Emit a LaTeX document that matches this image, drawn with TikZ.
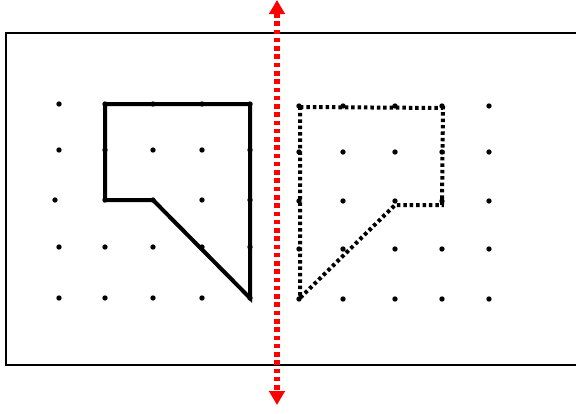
\documentclass[tikz,border=0pt]{standalone}
\usetikzlibrary{arrows.meta}
\begin{document}
\begin{tikzpicture}[x=0.75pt,y=-0.75pt,
  gdot/.style={fill=black},
  shapeline/.style={line width=3pt, line join=miter},
  dottedline/.style={line width=3pt, dash pattern=on 2.6pt off 2.2pt},
  mirror/.style={draw=red, line width=3.8pt, dash pattern=on 3.4pt off 2.8pt,
    {Triangle[width=11.5pt,length=10.5pt,fill=red]}-{Triangle[width=11.5pt,length=10.5pt,fill=red]}}]
\useasboundingbox (0,0) rectangle (576,414);
\clip (0,0) rectangle (576,414);
\draw[line width=1.5pt] (6,33) rectangle (600,365);
% grid points
\foreach \x [count=\i] in {59,105,153,202,250}{
  \foreach \y [count=\j] in {104,150,200,247,298}{
    \coordinate (L-\i-\j) at (\x,\y);
  }
}
\foreach \x [count=\i] in {299,343,395,442,489}{
  \foreach \y [count=\j] in {106,152,201,249,299}{
    \coordinate (R-\i-\j) at (\x,\y);
  }
}
\coordinate (L-1-3) at (55,200);
% solid figure
\draw[shapeline] (L-2-1) -- (L-5-1) -- (L-5-5) -- (L-3-3) -- (L-2-3) -- cycle;
% dotted image
\coordinate (P1) at (300,107);
\coordinate (P2) at (443,108);
\coordinate (P3) at (442,205);
\coordinate (P4) at (395,205);
\coordinate (P5) at (300,298);
\draw[dottedline] (P1) -- (P2) -- (P3) -- (P4) -- (P5) -- cycle;
% dots
\foreach \i in {1,...,5}{
  \foreach \j in {1,...,5}{
    \fill[gdot] (L-\i-\j) circle (2pt);
    \fill[gdot] (R-\i-\j) circle (2pt);
  }
}
% mirror line
\coordinate (mtop) at (277,0);
\coordinate (mbot) at (277,405);
\draw[mirror] (mtop) -- (mbot);
\end{tikzpicture}
\end{document}
